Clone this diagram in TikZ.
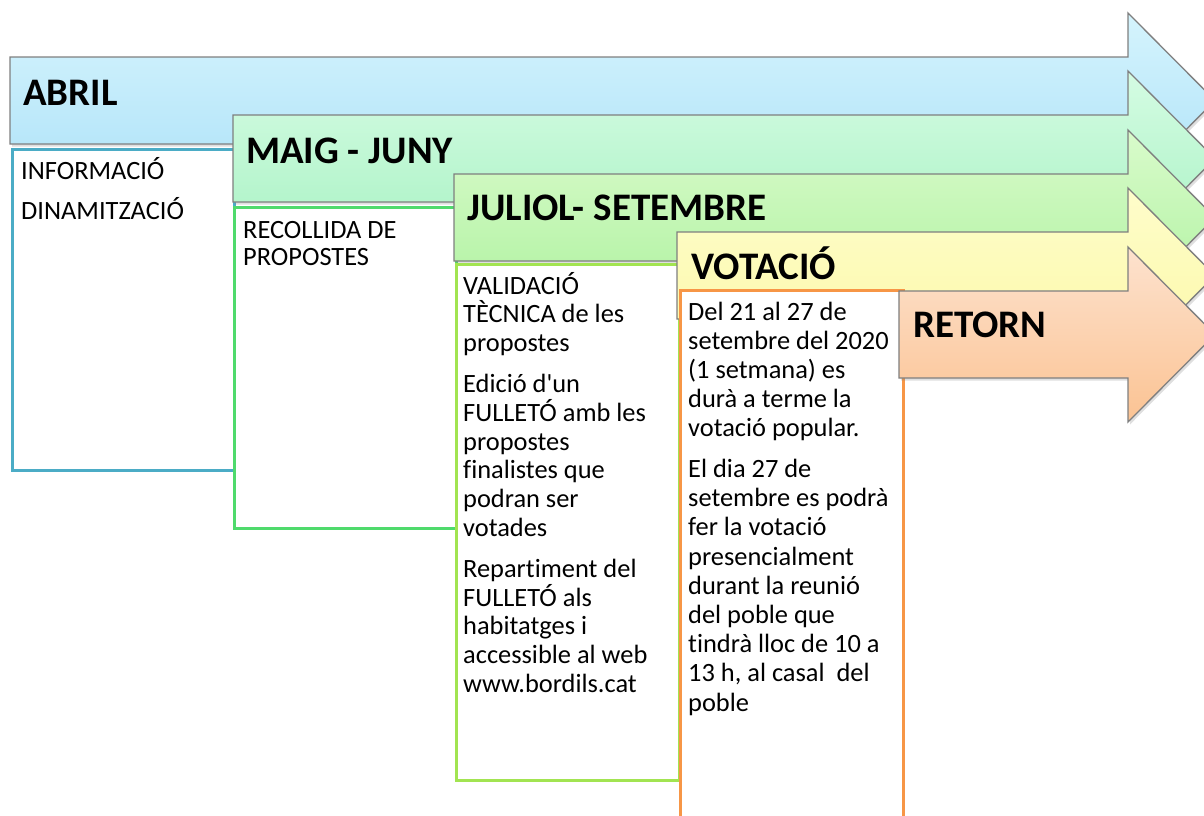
\documentclass[tikz,border=0pt]{standalone}
\usepackage{fontspec}
\setmainfont[Ligatures={NoCommon}]{Carlito}
\usetikzlibrary{shadows}
\definecolor{a1t}{HTML}{D5F4FD}\definecolor{a1b}{HTML}{AEE2F8}
\definecolor{a2t}{HTML}{D5FCE3}\definecolor{a2b}{HTML}{A9F2C4}
\definecolor{a3t}{HTML}{D9FBCB}\definecolor{a3b}{HTML}{AFF2A0}
\definecolor{a4t}{HTML}{FEFDCB}\definecolor{a4b}{HTML}{FCF8A6}
\definecolor{a5t}{HTML}{FDE2CE}\definecolor{a5b}{HTML}{FBC393}
\definecolor{bx1}{HTML}{4BACC6}
\definecolor{bx2}{HTML}{4FDA6C}
\definecolor{bx3}{HTML}{A2E451}
\definecolor{bx4}{HTML}{F79646}
\definecolor{edge}{HTML}{7F7F7F}
\tikzset{
  arrowshape/.style={draw=edge, line width=1.3pt, line join=miter,
    drop shadow={opacity=0.25, shadow xshift=2pt, shadow yshift=-2.5pt}},
  boxstyle/.style={draw=#1, line width=2.6pt, fill=white, anchor=north west,
    inner sep=0pt, minimum width=222pt},
  hdr/.style={anchor=base west, inner sep=0pt, font=\fontsize{39}{40}\selectfont\bfseries},
  bodytext/.style={anchor=base west, inner sep=0pt, font=\fontsize{26.4}{29}\selectfont, align=left}
}
\newcommand\tlarrow[4]{%
  \path[arrowshape, top color=#3, bottom color=#4]
    (#1,#2) -- (1128,#2) -- (1128,#2-44) -- (1215,#2+43.5) -- (1128,#2+131)
    -- (1128,#2+87) -- (#1,#2+87) -- cycle;}
\newcommand\bodypar[2]{\parbox[t]{215pt}{\fontsize{26.4}{#1}\selectfont\raggedright #2}}
\begin{document}
\begin{tikzpicture}[x=1pt,y=-1pt]
\useasboundingbox (0,0) rectangle (1204,815);
\clip (0,0) rectangle (1204,815);
% ABRIL
\tlarrow{10}{57}{a1t}{a1b}
\node[hdr] (h1) at (23,105) {ABRIL};
\node[boxstyle=bx1, minimum width=222pt, minimum height=321pt] (b1) at (11,148) {};
\node[bodytext] (t1) at (21,179) {\bodypar{29}{INFORMACIÓ\\[11pt]DINAMITZACIÓ}};
% MAIG - JUNY
\tlarrow{233}{115}{a2t}{a2b}
\node[hdr] (h2) at (246,163) {MAIG - JUNY};
\node[boxstyle=bx2, minimum width=222pt, minimum height=321pt] (b2) at (233,206) {};
\node[bodytext] (t2) at (243,238) {\bodypar{27}{RECOLLIDA DE\\PROPOSTES}};
% JULIOL - SETEMBRE
\tlarrow{454}{174}{a3t}{a3b}
\node[hdr] (h3) at (467,220) {JULIOL- SETEMBRE};
\node[boxstyle=bx3, minimum width=223pt, minimum height=516pt] (b3) at (455,263) {};
\node[bodytext] (t3) at (463,294) {\bodypar{28.8}{VALIDACIÓ\\TÈCNICA de les\\propostes\\[12pt]Edició d\textquotesingle un\\FULLETÓ amb les\\propostes\\finalistes que\\podran ser\\votades\\[12pt]Repartiment del\\FULLETÓ als\\habitatges i\\accessible al web\\www.bordils.cat}};
% VOTACIO
\tlarrow{677}{232}{a4t}{a4b}
\node[hdr] (h4) at (691,279) {VOTACIÓ};
\node[boxstyle=bx4, minimum width=223pt, minimum height=560pt] (b4) at (679,289) {};
\node[bodytext] (t4) at (688,320) {\bodypar{29.2}{Del 21 al 27 de\\setembre del 2020\\(1 setmana) es\\durà a terme la\\votació popular.\\[11.5pt]El dia 27 de\\setembre es podrà\\fer la votació\\presencialment\\durant la reunió\\del poble que\\tindrà lloc de 10 a\\13 h, al casal\ \ del\\poble}};
% RETORN
\tlarrow{899}{291}{a5t}{a5b}
\node[hdr] (h5) at (913,337) {RETORN};
\end{tikzpicture}
\end{document}
